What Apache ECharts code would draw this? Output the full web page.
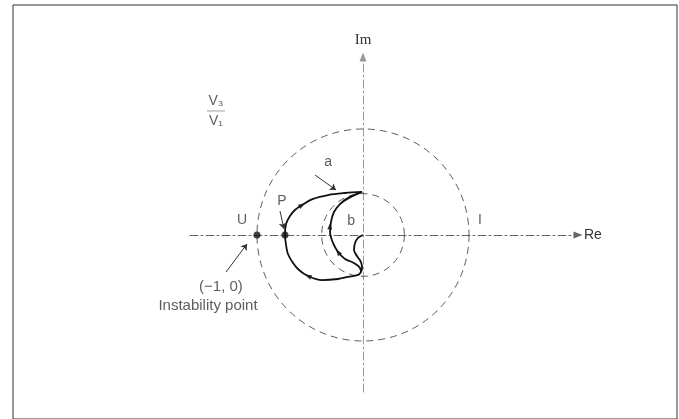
<!DOCTYPE html>
<html>
<head>
<meta charset="utf-8">
<script src="https://cdn.jsdelivr.net/npm/echarts@6/dist/echarts.min.js"></script>
<style>
  html, body { margin: 0; padding: 0; background: #fff; }
  #chart { width: 679px; height: 419px; }
</style>
</head>
<body>
<div id="chart"></div>
<script>
// plane extents (Re, Im) shown by the axes
const reRange = [-1.632, 2.028];
const imRange = [-1.481, 1.679];

// dashed reference circles about the origin
const circleRadii = [1, 0.39];

// curve a: from origin, the small bump, along the outer loop up to the top
const curveA = [
  [0, 0], [-0.047, -0.028], [-0.075, -0.075], [-0.085, -0.142], [-0.057, -0.198],
  [-0.019, -0.255], [-0.009, -0.311], [-0.019, -0.349], [-0.047, -0.377],
  [-0.142, -0.396], [-0.236, -0.415], [-0.387, -0.425], [-0.519, -0.387],
  [-0.604, -0.330], [-0.660, -0.264], [-0.708, -0.179], [-0.726, -0.094],
  [-0.736, 0], [-0.726, 0.104], [-0.689, 0.179], [-0.642, 0.236], [-0.575, 0.283],
  [-0.472, 0.340], [-0.330, 0.377], [-0.170, 0.396], [-0.009, 0.406]
];
// curve b: inner branch from the lower junction up to the top
const curveB = [
  [-0.019, -0.349], [-0.028, -0.311], [-0.057, -0.283], [-0.104, -0.255],
  [-0.170, -0.226], [-0.236, -0.160], [-0.283, -0.075], [-0.311, 0.028],
  [-0.302, 0.123], [-0.274, 0.217], [-0.217, 0.292], [-0.132, 0.349], [-0.009, 0.406]
];
// hollow arrow stroke on b near the top
const curveBHead = [[-0.217, 0.292], [-0.179, 0.330], [-0.113, 0.368], [-0.009, 0.406]];

// direction arrows on the curves
const arrowPoints = [[-0.575, 0.283], [-0.519, -0.387], [-0.311, 0.085], [-0.236, -0.160]];
const arrowAngles = [-59, 66, -6, 35];

// marked points U (-1,0) and P
const markPoints = [[-1.0, 0], [-0.736, 0]];

// text labels
const labelText = ['U', 'P', 'b', 'I', 'a'];
const labelPos = [[-1.142, 0.142], [-0.764, 0.321], [-0.113, 0.132], [1.104, 0.142], [-0.330, 0.689]];
const noteText = ['(\u22121, 0)', 'Instability point'];
const notePos = [[-1.340, -0.491], [-1.462, -0.670]];
const ratioPos = [-1.387, 1.170];

// leader arrows [from, to, curveness]
const leaders = [
  [[-0.453, 0.566], [-0.255, 0.425], -0.35],
  [[-0.783, 0.226], [-0.745, 0.057], 0],
  [[-1.292, -0.349], [-1.094, -0.085], -0.2]
];

const font = 'Liberation Sans';
const chart = echarts.init(document.getElementById('chart'));
const gridLeft = 190, gridRight = 101;
const pxPerUnit = (679 - gridLeft - gridRight) / (reRange[1] - reRange[0]);

const axisDash = [8, 3, 2, 3];
const textStyle = { fontFamily: font, fontSize: 14, color: '#333' };

const option = {
  animation: false,
  grid: [
    { left: gridLeft, right: gridRight, top: 57, bottom: 27 },
    { left: 13, right: 2, top: 5, bottom: -10, show: true, borderColor: '#333', borderWidth: 1, backgroundColor: 'transparent' }
  ],
  xAxis: [{
    type: 'value', min: reRange[0], max: reRange[1],
    axisLine: { show: true, onZero: true, symbol: ['none', 'triangle'], symbolSize: [7, 9],
      lineStyle: { color: '#666', width: 1, type: axisDash } },
    axisTick: { show: false }, axisLabel: { show: false }, splitLine: { show: false },
    name: 'Re', nameLocation: 'end', nameGap: 6,
    nameTextStyle: { fontFamily: font, fontSize: 14, color: '#333' }
  }, { gridIndex: 1, show: false }],
  yAxis: [{
    type: 'value', min: imRange[0], max: imRange[1],
    axisLine: { show: true, onZero: true, symbol: ['none', 'triangle'], symbolSize: [7, 9],
      lineStyle: { color: '#999', width: 1, type: axisDash } },
    axisTick: { show: false }, axisLabel: { show: false }, splitLine: { show: false },
    name: 'Im', nameLocation: 'end', nameGap: 9,
    nameTextStyle: { fontFamily: 'Liberation Serif', fontSize: 15, color: '#333' }
  }, { gridIndex: 1, show: false }],
  series: [
    {
      type: 'scatter', data: circleRadii.map(r => [0, 0, r]),
      symbol: 'circle', symbolSize: v => 2 * v[2] * pxPerUnit, silent: true,
      itemStyle: { color: 'rgba(0,0,0,0)', borderColor: '#333', borderWidth: 1, borderType: [7, 5] }
    },
    {
      type: 'line', data: curveA, smooth: 0.35, symbol: 'none', clip: false,
      lineStyle: { color: '#111', width: 1.8 }
    },
    {
      type: 'line', data: curveB, smooth: 0.35, symbol: 'none', clip: false,
      lineStyle: { color: '#111', width: 1.8 }
    },
    {
      type: 'line', data: curveBHead, smooth: 0.35, symbol: 'none', clip: false,
      lineStyle: { color: '#111', width: 1.2 }
    },
    {
      type: 'scatter', symbol: 'triangle', symbolSize: [5, 7],
      data: arrowPoints.map((p, i) => ({ value: p, symbolRotate: arrowAngles[i] })),
      itemStyle: { color: '#111' }
    },
    {
      type: 'scatter', data: markPoints, symbolSize: 7, itemStyle: { color: '#111' }
    },
    {
      type: 'scatter', symbolSize: 0, silent: true,
      data: labelPos.map((p, i) => ({ value: p, name: labelText[i] })),
      label: Object.assign({ show: true, position: 'inside', formatter: '{b}' }, textStyle),
      markLine: {
        silent: true, symbol: ['none', 'arrow'], symbolSize: 6, animation: false,
        label: { show: false },
        lineStyle: { color: '#333', width: 1, type: 'solid' },
        data: leaders.map(l => [
          { coord: l[0], lineStyle: { curveness: l[2] } },
          { coord: l[1] }
        ])
      }
    },
    {
      type: 'scatter', symbolSize: 0, silent: true,
      data: notePos.map((p, i) => ({ value: p, name: noteText[i] })),
      label: Object.assign({ show: true, position: 'inside', formatter: '{b}' }, textStyle, { fontSize: 15 })
    },
    {
      type: 'scatter', symbolSize: 0, silent: true, data: [ratioPos],
      label: { show: true, position: 'inside',
        formatter: '{t|V\u2083}\n{bar|}\n{t|V\u2081}',
        rich: {
          t: { fontFamily: font, fontSize: 14, color: '#333', lineHeight: 16 },
          bar: { width: 18, height: 1, lineHeight: 4, backgroundColor: '#888' }
        }
      }
    }
  ]
};
chart.setOption(option);
</script>
</body>
</html>
